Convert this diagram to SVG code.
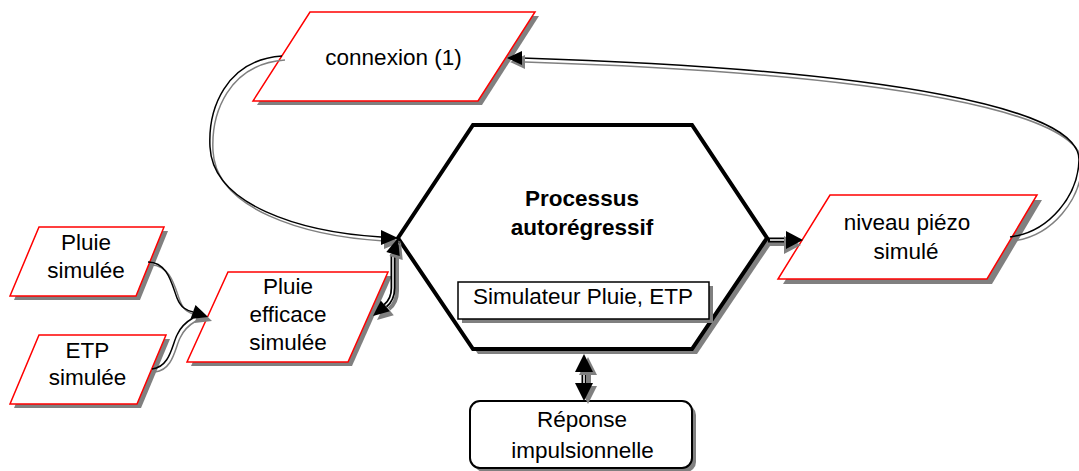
<svg xmlns="http://www.w3.org/2000/svg" width="1079" height="471" viewBox="0 0 1079 471">
<style>
.para{fill:#fff;stroke:#f00;stroke-width:1.5}
.sh{fill:#808080}
.t{font-family:"Liberation Sans",Arial,sans-serif;font-size:22.5px;text-anchor:middle;fill:#000}
.b{font-weight:bold}
.cb{fill:none;stroke:#000;stroke-width:1.5}
.cg{fill:none;stroke:#808080;stroke-width:1.5}
.dbl{fill:none;stroke:#000;stroke-width:5}
.dblw{fill:none;stroke:#fff;stroke-width:1.5}
.dbls{fill:none;stroke:#808080;stroke-width:4}
.ah{fill:#000}
.ahs{fill:#808080}
</style>
<rect width="1079" height="471" fill="#fff"/>

<g id="connexion">
<polygon class="sh" points="310,12 535,12 478,101 253,101" transform="translate(4,4)"/>
<polygon class="para" points="310,12 535,12 478,101 253,101"/>
<text class="t" x="393.5" y="64.5">connexion (1)</text>
</g>

<g id="pluie-simulee">
<polygon class="sh" points="39,227 164,227 136,296 10,296" transform="translate(4,4)"/>
<polygon class="para" points="39,227 164,227 136,296 10,296"/>
<text class="t" x="86" y="249.5">Pluie</text>
<text class="t" x="86" y="277.5">simulée</text>
</g>

<g id="etp-simulee">
<polygon class="sh" points="39,335 166,335 137,404 10,404" transform="translate(4,4)"/>
<polygon class="para" points="39,335 166,335 137,404 10,404"/>
<text class="t" x="87.5" y="357.5">ETP</text>
<text class="t" x="87.5" y="385">simulée</text>
</g>

<g id="pluie-efficace">
<polygon class="sh" points="228,272 388,272 348,362 187,362" transform="translate(4,4)"/>
<polygon class="para" points="228,272 388,272 348,362 187,362"/>
<text class="t" x="288" y="293.5">Pluie</text>
<text class="t" x="288" y="321.5">efficace</text>
<text class="t" x="288" y="350">simulée</text>
</g>

<g id="processus">
<polygon class="sh" points="473,125 692,125 767,238 692,349 473,349 398,238" transform="translate(5,5)"/>
<polygon points="473,125 692,125 767,238 692,349 473,349 398,238" fill="#fff" stroke="#000" stroke-width="4" stroke-linejoin="miter"/>
<text class="t b" x="582" y="206">Processus</text>
<text class="t b" x="582" y="235">autorégressif</text>
<rect class="sh" x="462" y="286" width="251" height="37"/>
<rect x="458" y="282" width="251" height="37" fill="#fff" stroke="#000" stroke-width="1.5"/>
<text class="t" x="583" y="303.5">Simulateur Pluie, ETP</text>
</g>

<g id="niveau-piezo">
<polygon class="sh" points="830,195 1037,195 987,279 778,279" transform="translate(5,5)"/>
<polygon class="para" points="830,195 1037,195 987,279 778,279"/>
<text class="t" x="907" y="230">niveau piézo</text>
<text class="t" x="906" y="259">simulé</text>
</g>

<g id="reponse">
<rect class="sh" x="474" y="405" width="222" height="67" rx="10"/>
<rect x="470" y="401" width="222" height="67" rx="10" fill="#fff" stroke="#000" stroke-width="2"/>
<text class="t" x="582" y="427">Réponse</text>
<text class="t" x="582.5" y="458">impulsionnelle</text>
</g>

<g id="connectors">
<path class="cg" d="M282,56 C225,60 208,110 210,147 C213,205 300,232 381,237" transform="translate(3,4)"/>
<path class="cb" d="M282,56 C225,60 208,110 210,147 C213,205 300,232 381,237"/>
<polygon class="ahs" points="398,238 381,230 381,245" transform="translate(3,4)"/>
<polygon class="ah" points="398,238 381,230 381,245"/>

<path class="cg" d="M1010,237 C1050,232 1078,195 1079,160 C1080,110 900,70 522,58" transform="translate(3,4)"/>
<path class="cb" d="M1010,237 C1050,232 1078,195 1079,160 C1080,110 900,70 522,58"/>
<polygon class="ahs" points="507,58 522,51 522,65" transform="translate(3,4)"/>
<polygon class="ah" points="507,58 522,51 522,65"/>

<path class="cg" d="M148,262 C168,262 172,285 177,298 C181,308 186,310 193,312" transform="translate(3,3)"/>
<path class="cb" d="M148,262 C168,262 172,285 177,298 C181,308 186,310 193,312"/>
<path class="cg" d="M152,369 C170,367 172,345 177,335 C181,326 186,322 193,318" transform="translate(3,3)"/>
<path class="cb" d="M152,369 C170,367 172,345 177,335 C181,326 186,322 193,318"/>
<polygon class="ahs" points="208,317 195.5,305 190.5,319" transform="translate(4,4)"/>
<polygon class="ah" points="208,317 195.5,305 190.5,319"/>

<path class="dbls" d="M393,254 L393,288 C393,297 390,302 385,306" transform="translate(4,3)"/>
<path class="dbl" d="M393,254 L393,288 C393,297 390,302 385,306"/>
<path class="dblw" d="M393,254 L393,288 C393,297 390,302 385,306"/>
<polygon class="ahs" points="398,238 399.7,256 386.3,252" transform="translate(3,4)"/>
<polygon class="ah" points="398,238 399.7,256 386.3,252"/>
<polygon class="ahs" points="373,316 389.8,311.2 380.8,300.4" transform="translate(4,4)"/>
<polygon class="ah" points="373,316 389.8,311.2 380.8,300.4"/>

<path class="dbls" d="M770,240 H787" transform="translate(0,4)"/>
<path class="dbl" d="M768,240 H787"/>
<path class="dblw" d="M770,240 H787"/>
<polygon class="ahs" points="803,240 786,231 786,249" transform="translate(-2,5)"/>
<polygon class="ah" points="803,240 786,231 786,249"/>

<path class="dbls" d="M584,371 V384" transform="translate(5,2)"/>
<path class="dbl" d="M584,370 V385"/>
<path class="dblw" d="M584,370 V385"/>
<polygon class="ahs" points="584,354 575,372 593,372" transform="translate(4,3)"/>
<polygon class="ah" points="584,354 575,372 593,372"/>
<polygon class="ahs" points="584,401 575,383 593,383" transform="translate(4,3)"/>
<polygon class="ah" points="584,401 575,383 593,383"/>
</g>
</svg>
